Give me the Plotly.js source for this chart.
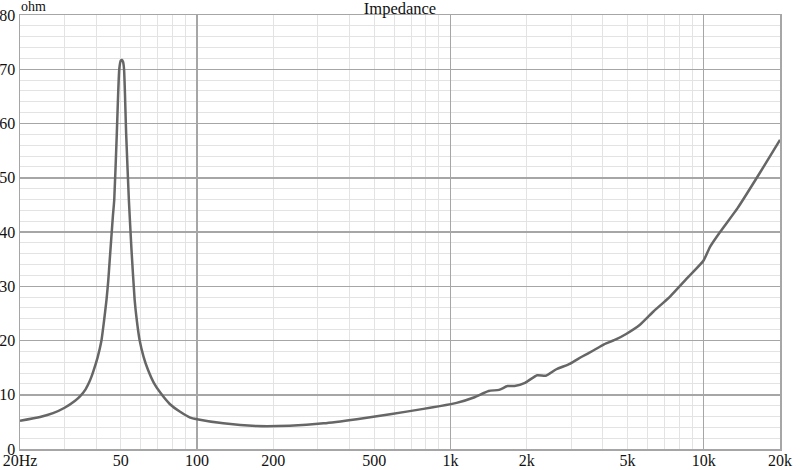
<!DOCTYPE html>
<html>
<head>
<meta charset="utf-8">
<script src="https://cdn.plot.ly/plotly-3.0.1.min.js"></script>
<style>html,body{margin:0;padding:0;background:#fff;}#chart{width:800px;height:470px;}</style>
</head>
<body>
<div id="chart"></div>
<script>
// Frequency (Hz)
const freqHz = [20, 24, 27, 30, 33, 34.5, 36.3, 37.5, 38.2, 39, 40.5, 41.9, 42.9, 43.9, 44.6, 45.2, 46.5, 47.1, 48.2, 49.3, 50.0, 50.5, 51.0, 51.5, 52.5, 53.8, 55.1, 56.7, 57.9, 59.3, 61.5, 64, 67.5, 71.8, 78, 85.4, 94, 100, 127, 172, 232, 316, 427, 578, 783, 908, 1058, 1237, 1416, 1556, 1680, 1790, 1970, 2200, 2380, 2620, 2960, 3300, 3680, 4040, 4500, 4940, 5600, 6320, 7360, 8600, 9970, 10600, 11600, 13600, 16500, 20000];
// Impedance (ohm)
const impedanceOhm = [5.2, 5.9, 6.6, 7.6, 8.9, 9.7, 11.0, 12.3, 13.2, 14.4, 16.9, 19.9, 23.5, 27.5, 31.0, 34.8, 42.8, 45.9, 58, 70, 71.6, 71.7, 71.4, 70, 58, 45.9, 36.7, 27.5, 23.5, 20.1, 17.0, 14.6, 12.2, 10.3, 8.3, 6.9, 5.8, 5.5, 4.73, 4.24, 4.3, 4.73, 5.5, 6.4, 7.4, 7.9, 8.5, 9.5, 10.7, 10.9, 11.6, 11.6, 12.2, 13.6, 13.5, 14.7, 15.7, 17.0, 18.2, 19.3, 20.2, 21.2, 22.9, 25.3, 28.1, 31.5, 34.7, 37.3, 40, 44.4, 50.6, 57];
// Tick labels
const labelTicks = [20, 50, 100, 200, 500, 1000, 2000, 5000, 10000, 20000];
const labelText = ['20Hz', '50', '100', '200', '500', '1k', '2k', '5k', '10k', '20k'];
const decadeTicks = [100, 1000, 10000];
const minorTicks = [30, 40, 60, 70, 80, 90, 300, 400, 600, 700, 800, 900, 3000, 4000, 6000, 7000, 8000, 9000];

const FONT = 'Liberation Serif, Times New Roman, serif';
const LIGHT = '#e3e3e3';
const DARK = '#a6a6a6';
const xr = [Math.log10(20), Math.log10(20000)];

const traces = [
  {x: freqHz, y: impedanceOhm, xaxis: 'x2', yaxis: 'y', mode: 'lines', opacity: 0, hoverinfo: 'skip', showlegend: false, line: {width: 1}},
  {x: freqHz, y: impedanceOhm, xaxis: 'x', yaxis: 'y', mode: 'lines', showlegend: false,
   line: {color: '#666666', width: 2.5, shape: 'spline', smoothing: 0.5}}
];

const layout = {
  width: 800, height: 470,
  margin: {l: 20, r: 20, t: 15, b: 21, pad: 0},
  paper_bgcolor: '#ffffff', plot_bgcolor: '#ffffff',
  font: {family: FONT, size: 16, color: '#111'},
  title: {text: 'Impedance', x: 0.5, xanchor: 'center', xref: 'paper', y: 0.983, yanchor: 'middle', yref: 'container',
          font: {family: FONT, size: 16.5, color: '#111'}},
  xaxis: {type: 'log', range: xr, tickmode: 'array', tickvals: labelTicks, ticktext: labelText,
          showgrid: true, gridcolor: LIGHT, gridwidth: 1, ticks: '', zeroline: false,
          showline: true, linecolor: DARK, linewidth: 1.5, mirror: true, ticklabelstandoff: -4,
          tickfont: {family: FONT, size: 16, color: '#111'},
          minor: {tickmode: 'array', tickvals: minorTicks, showgrid: true, gridcolor: LIGHT, gridwidth: 1, ticks: ''}},
  xaxis2: {type: 'log', range: xr, overlaying: 'x', anchor: 'y', side: 'bottom', tickmode: 'array', tickvals: decadeTicks,
           showticklabels: false, showgrid: true, gridcolor: DARK, gridwidth: 1.5, ticks: '', zeroline: false, showline: false},
  yaxis: {range: [0, 80], tickmode: 'linear', tick0: 0, dtick: 10, showgrid: true, gridcolor: DARK, gridwidth: 1.5,
          ticks: '', zeroline: false, showline: true, linecolor: DARK, linewidth: 1.5, mirror: true,
          tickfont: {family: FONT, size: 16, color: '#111'},
          minor: {tickmode: 'linear', dtick: 2, showgrid: true, gridcolor: LIGHT, gridwidth: 1, ticks: ''}},
  annotations: [{text: 'ohm', xref: 'paper', yref: 'paper', x: 0, y: 1, xanchor: 'left', yanchor: 'bottom', yshift: -1, xshift: -1,
                 showarrow: false, font: {family: FONT, size: 14, color: '#111'}}]
};

Plotly.newPlot('chart', traces, layout, {staticPlot: true, displayModeBar: false});
</script>
</body>
</html>
